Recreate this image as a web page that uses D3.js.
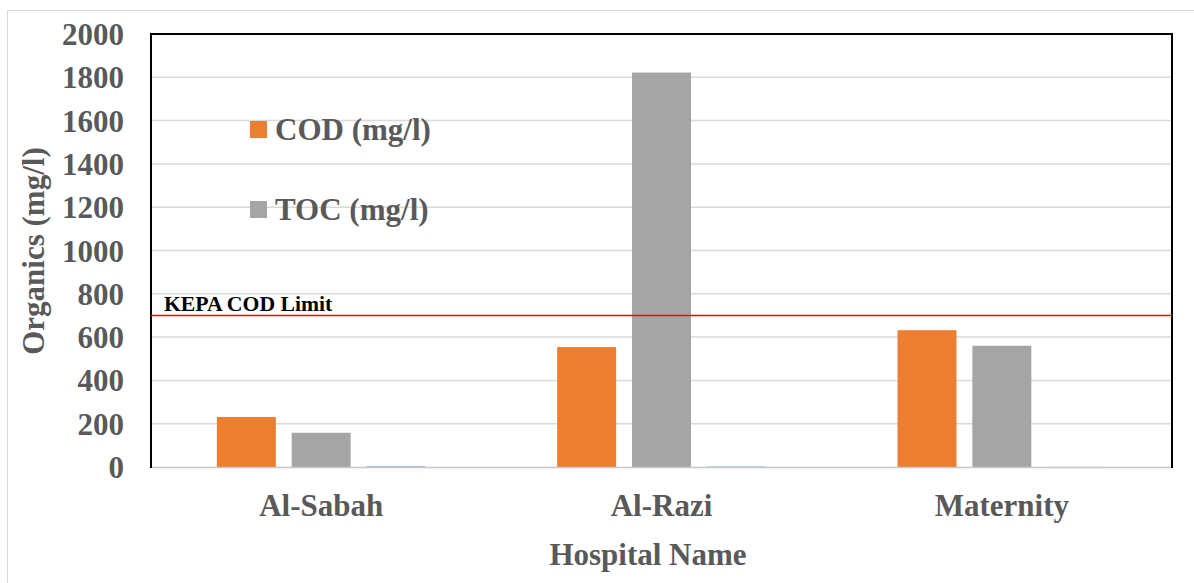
<!DOCTYPE html>
<html><head><meta charset="utf-8">
<script src="https://cdn.jsdelivr.net/npm/d3@7"></script>
<style>html,body{margin:0;padding:0;background:#fff;}svg{display:block;}</style>
</head><body>
<script>
const categories = ["Al-Sabah", "Al-Razi", "Maternity"];
const seriesNames = ["COD (mg/l)", "TOC (mg/l)", "Other"];
const codValues = [231, 554, 632];
const tocValues = [158, 1822, 560];
const otherValues = [5, 3, 1];
const yTicks = [0, 200, 400, 600, 800, 1000, 1200, 1400, 1600, 1800, 2000];
const kepaLimit = 700;
const kepaLabel = "KEPA COD Limit";
const xTitle = "Hospital Name";
const yTitle = "Organics (mg/l)";

(function () {
const colors = ["#ED7D31", "#A5A5A5", "#9DC3E6"];
const series = [codValues, tocValues, otherValues];
const W = 1194, H = 583;
const pL = 151, pR = 1172, pT = 34, pB = 467;
const font = "'Liberation Serif','Times New Roman',serif";
const txt = "#595959";

const svg = d3.select("body").append("svg").attr("width", W).attr("height", H);
svg.append("rect").attr("x", 7.5).attr("y", 10.5).attr("width", W).attr("height", H)
  .attr("fill", "#fff").attr("stroke", "#D9D9D9").attr("stroke-width", 1);

const y = d3.scaleLinear().domain([0, 2000]).range([pB, pT]);
const x0 = d3.scaleBand().domain(categories).range([pL, pR]).padding(0);
const x1 = d3.scaleBand().domain(d3.range(series.length)).range([0, x0.bandwidth()])
  .paddingInner(0.212).paddingOuter(0.88);

// gridlines
svg.append("g").selectAll("line").data(yTicks.filter(t => t > 0)).join("line")
  .attr("x1", pL).attr("x2", pR).attr("y1", d => y(d)).attr("y2", d => y(d))
  .attr("stroke", "#D9D9D9").attr("stroke-width", 1.5);

// bars
const g = svg.append("g");
series.forEach((vals, si) => {
  g.append("g").selectAll("rect").data(vals).join("rect")
    .attr("x", (d, i) => x0(categories[i]) + x1(si))
    .attr("width", x1.bandwidth())
    .attr("y", d => y(d))
    .attr("height", d => y(0) - y(d))
    .attr("fill", colors[si]);
});

// axis line bottom
svg.append("line").attr("x1", pL).attr("x2", pR).attr("y1", pB + 0.5).attr("y2", pB + 0.5)
  .attr("stroke", "#C8C8C8").attr("stroke-width", 1.5);

// frame
svg.append("path")
  .attr("d", `M${pL},${pB + 1}V${pT}H${pR}V${pB + 1}`)
  .attr("fill", "none").attr("stroke", "#000").attr("stroke-width", 2);

// KEPA line
svg.append("line").attr("x1", pL).attr("x2", pR).attr("y1", y(kepaLimit)).attr("y2", y(kepaLimit))
  .attr("stroke", "#FF0000").attr("stroke-width", 1.5);
svg.append("text").attr("x", 164).attr("y", y(kepaLimit) - 4)
  .attr("font-family", font).attr("font-weight", "bold").attr("font-size", 21.7)
  .attr("fill", "#000").text(kepaLabel);

// y tick labels
const yAxis = d3.axisLeft(y).tickValues(yTicks).tickFormat(d3.format("d")).tickSize(0).tickPadding(0);
const ya = svg.append("g").attr("transform", `translate(124,0)`).call(yAxis);
ya.select(".domain").remove();
ya.selectAll("text").attr("font-family", font).attr("font-weight", "bold")
  .attr("font-size", 31).attr("fill", txt).attr("dy", "0.34em");

// x category labels
const xAxis = d3.axisBottom(x0).tickSize(0).tickPadding(0);
const xa = svg.append("g").attr("transform", `translate(0,${pB})`).call(xAxis);
xa.select(".domain").remove();
xa.selectAll("text").attr("font-family", font).attr("font-weight", "bold")
  .attr("font-size", 31).attr("fill", txt).attr("dy", null).attr("y", 49);

// titles
svg.append("text").attr("x", 648).attr("y", 565).attr("text-anchor", "middle")
  .attr("font-family", font).attr("font-weight", "bold").attr("font-size", 31).attr("fill", txt)
  .text(xTitle);
svg.append("text").attr("transform", "translate(44,251) rotate(-90)").attr("text-anchor", "middle")
  .attr("font-family", font).attr("font-weight", "bold").attr("font-size", 31).attr("fill", txt)
  .text(yTitle);

// legend
const legendY = [121, 201];
[0, 1].forEach(i => {
  svg.append("rect").attr("x", 250).attr("y", legendY[i]).attr("width", 17).attr("height", 17)
    .attr("fill", colors[i]);
  svg.append("text").attr("x", 275).attr("y", legendY[i] + 19)
    .attr("font-family", font).attr("font-weight", "bold").attr("font-size", 31).attr("fill", txt)
    .text(seriesNames[i]);
});
})();
</script>
</body></html>
